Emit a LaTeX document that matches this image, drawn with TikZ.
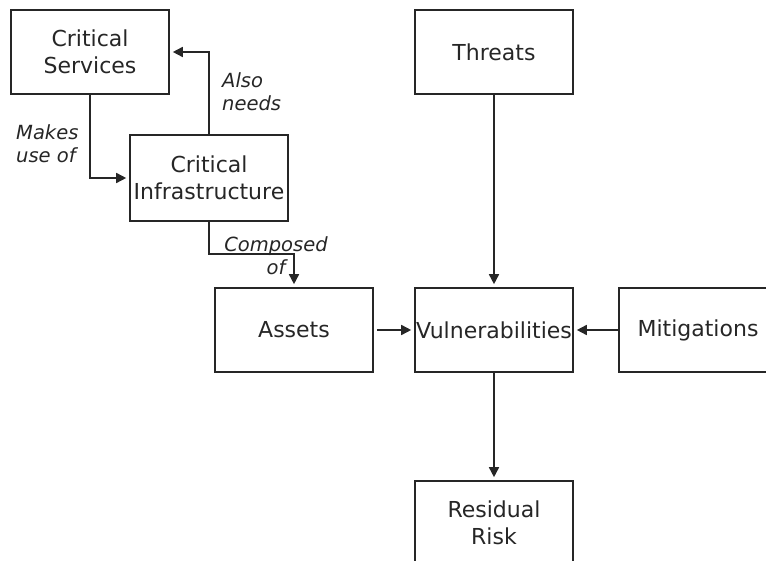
\documentclass[tikz,border=0pt]{standalone}
\usepackage{fontspec}
\setmainfont{DejaVu Sans}
\usetikzlibrary{arrows.meta}
\begin{document}
\begin{tikzpicture}[x=1pt,y=-1pt,
  box/.style={draw=black!85, line width=1.6pt, rectangle, minimum width=158pt, minimum height=84pt, inner sep=0pt, align=center, font=\fontsize{22}{27.5}\selectfont, text=black!85},
  arr/.style={draw=black!85, line width=1.6pt, -{Triangle[length=10pt,width=10pt]}, shorten >=3pt},
  lbl/.style={font=\fontsize{19.5}{23}\selectfont\itshape, text=black!85, inner sep=0pt, align=left}]
\useasboundingbox (0,0) rectangle (766,561);
\clip (0,0) rectangle (766,561);
\node[box] (cs) at (90,52) {Critical\\Services};
\node[box, minimum height=86pt] (ci) at (209,178) {Critical\\Infrastructure};
\node[box] (th) at (494,52) {Threats};
\node[box] (as) at (294,330) {Assets};
\node[box] (vu) at (494,330) {Vulnerabilities};
\node[box] (mi) at (698,330) {Mitigations};
\node[box] (rr) at (494,523) {Residual\\Risk};
\coordinate (bend) at (209,254);
\draw[arr] (cs.south) |- (ci.west);
\draw[arr] (ci.north) |- (cs.east);
\draw[arr] (ci.south) -- (bend) -| (as.north);
\draw[arr] (th.south) -- (vu.north);
\draw[arr] (as.east) ++(3,0) -- (vu.west);
\draw[arr] (mi.west) -- (vu.east);
\draw[arr] (vu.south) -- (rr.north);
\node[lbl, anchor=north west] (l1) at (16,124) {Makes\\use of};
\node[lbl, anchor=north west] (l2) at (222,72) {Also\\needs};
\node[lbl, anchor=north, align=center] (l3) at (276,236) {Composed\\of};
\end{tikzpicture}
\end{document}
